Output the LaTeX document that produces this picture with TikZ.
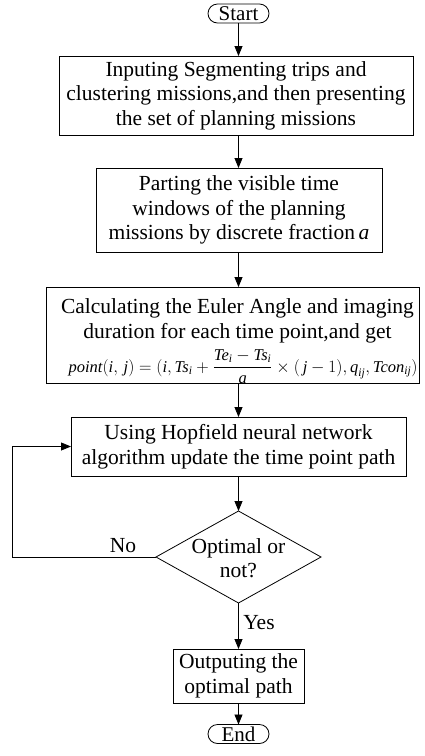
\documentclass[tikz,border=0pt]{standalone}
\usepackage{amsmath}
\usepackage{fontspec}
\setmainfont{Liberation Serif}
\usetikzlibrary{arrows.meta,shapes.geometric}
% italic upright-font letters inside math
\newcommand{\mi}[1]{\text{\itshape #1}}
\begin{document}
\begin{tikzpicture}[x=1pt,y=-1pt,
  every node/.style={inner sep=0pt, outer sep=0pt},
  txt/.style={align=center, font=\fontsize{21.5}{24.5}\selectfont},
  box/.style={draw, line width=0.8pt, txt},
  term/.style={draw, line width=0.8pt, rounded corners=9.5pt, minimum width=61pt, minimum height=19pt, font=\fontsize{21}{24}\selectfont},
  decision/.style={draw, line width=0.8pt, diamond, minimum width=165pt, minimum height=92pt},
  arr/.style={line width=0.8pt, -{Triangle[length=10pt,width=8pt]}},
  lbl/.style={font=\fontsize{21.5}{24}\selectfont}
]
\useasboundingbox (0,0) rectangle (424,756);

% main flow axis
\coordinate (ax) at (238.5,0);

\node[term] (start) at (238.5,13.5) {Start};

\node[box, minimum width=354pt, minimum height=79pt] (b1) at (236,95.5)
  {Inputing Segmenting trips and\\clustering missions,and then presenting\\the set of planning missions};

\node[box, minimum width=286pt, minimum height=84pt] (b2) at (239,210)
  {Parting the visible time\\windows of the planning\\missions by discrete fraction\,$\mi{a}$};

\node[draw, line width=0.8pt, minimum width=373pt, minimum height=96pt] (b3) at (232.5,335) {};
\node[txt] (b3t) at (237.5,321)
  {Calculating the Euler Angle and imaging\\duration for each time point,and get};
\node[font=\fontsize{16.5}{19}\selectfont, anchor=base] (b3f) at (243,372)
  {$\mi{point}(\mi{i},\,\mi{j}) = (\mi{i},\mi{Ts}_{\mi{i}} + \dfrac{\mi{Te}_{\mi{i}} - \mi{Ts}_{\mi{i}}}{\mi{a}}\times(\,\mi{j}-1),\mi{q}_{\mi{ij}},\mi{Tcon}_{\mi{ij}})$};

\node[box, minimum width=335pt, minimum height=59pt] (b4) at (238.5,446.5)
  {Using Hopfield neural network\\algorithm update the time point path};

\node[decision] (dec) at (238.5,557) {};
\node[txt] (dect) at (238.5,558) {Optimal or\\not?};

\node[box, minimum width=131pt, minimum height=54pt] (b5) at (238.5,676)
  {Outputing the\\optimal path};

\node[term] (end) at (238.5,734) {End};

% connectors
\draw[arr] (start.south -| ax) -- (b1.north -| ax);
\draw[arr] (b1.south -| ax) -- (b2.north -| ax);
\draw[arr] (b2.south -| ax) -- (b3.north -| ax);
\draw[arr] (b3.south -| ax) -- (b4.north -| ax);
\draw[arr] (b4.south -| ax) -- (dec.north);
\draw[arr] (dec.south) -- (b5.north);
\draw[arr] (b5.south) -- (end.north);

% loop back when the path is not optimal
\coordinate (loopx) at (12,557);
\draw[arr] (dec.west) -- (loopx) |- (b4.west);

\node[lbl] (no) at (123,546) {No};
\node[lbl] (yes) at (259,623) {Yes};
\end{tikzpicture}
\end{document}
